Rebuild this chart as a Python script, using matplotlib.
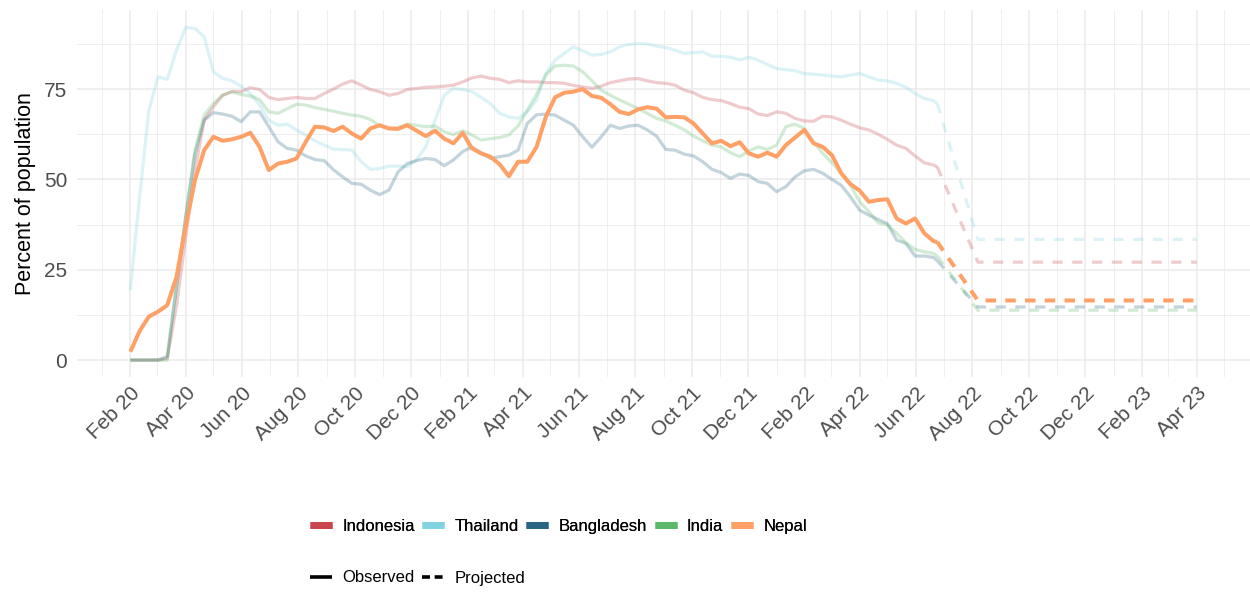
import numpy as np
import matplotlib
matplotlib.use("Agg")
import matplotlib.pyplot as plt
import matplotlib.dates as mdates
from matplotlib.lines import Line2D

plt.rcParams['font.family'] = ['Liberation Sans', 'DejaVu Sans']

# observed series, sampled every 10 days from 1 Feb 2020 (last point = 24 Jun 2022)
start = np.datetime64('2020-02-01')
obs_days = list(range(0, 871, 10)) + [874]

indonesia = [0, 0, 0, 0, 0.5, 15, 34, 52.6, 66.4, 70.1, 73.3, 74.3, 74.3, 75.4, 74.9,
             72.7, 72.1, 72.4, 72.7, 72.4, 72.4, 73.8, 75, 76.4, 77.3, 76.1, 74.9, 74.3,
             73.3, 73.8, 74.9, 75.2, 75.5, 75.6, 75.8, 76.1, 77, 78.1, 78.6, 78, 77.7,
             76.8, 77.3, 77, 77, 76.8, 76.8, 76.6, 76, 75.6, 75.2, 75.8, 76.8, 77.3, 77.8,
             77.9, 77.3, 76.8, 76.6, 76.1, 74.7, 74, 72.7, 72.1, 71.8, 71, 70, 69.6, 68.1,
             67.7, 68.7, 68.3, 66.9, 66.2, 66.1, 67.5, 67.3, 66.4, 65.3, 64.3, 63.7, 62.5,
             61.1, 59.5, 58.6, 56.5, 54.6, 54, 53.5]
thailand = [19.4, 45, 69, 78.4, 77.7, 85.8, 92.1, 91.8, 89.5, 79.8, 78, 77.3, 75.8, 73.8,
            70.6, 66.4, 65, 65.3, 63.7, 62.3, 60.7, 59.5, 58.4, 58.3, 58.1, 54.9, 52.8, 53,
            53.7, 53.7, 53.5, 55.5, 59, 66.4, 73.3, 75.2, 74.9, 74.3, 72.7, 71, 68.3, 67.3,
            66.9, 68.7, 72, 79.3, 83, 84.9, 86.7, 85.6, 84.4, 84.6, 85.3, 86.7, 87.4, 87.6,
            87.5, 86.9, 86.5, 85.8, 84.9, 85.1, 85.3, 84.1, 84.1, 83.8, 83.1, 83.8, 83,
            81.8, 80.7, 80.4, 80.1, 79.3, 79.1, 78.9, 78.6, 78.4, 78.9, 79.3, 78.4, 77.5,
            77.3, 76.6, 75.5, 73.8, 72.4, 71.8, 71]
bangladesh = [0, 0, 0, 0, 1, 20.3, 39.7, 57.2, 66.4, 68.5, 68.1, 67.5, 66, 68.7, 68.7,
              64.6, 60.4, 58.6, 58.1, 56.5, 55.5, 55.2, 52.7, 50.7, 48.9, 48.7, 47, 45.8,
              47, 52.1, 54.4, 55.2, 55.8, 55.5, 53.8, 55.4, 57.7, 59, 57.4, 55.8, 56.3,
              56.7, 58.1, 65.5, 67.9, 68.1, 67.8, 66.4, 65, 61.8, 58.9, 61.8, 65, 64.1,
              64.8, 65, 63.7, 62, 58.3, 58.1, 57, 56.5, 54.9, 52.8, 51.9, 50.3, 51.5, 51.1,
              49.4, 48.9, 46.6, 48, 50.7, 52.4, 52.8, 51.7, 50, 48.4, 45.2, 41.5, 40.1,
              38.9, 37.8, 33.2, 32.3, 28.8, 28.8, 28.4, 27.5]
india = [0, 0, 0, 0, 0, 21, 39.7, 58, 67.8, 71, 73.3, 74.3, 73.5, 73.1, 72.1, 68.7, 68.3,
         69.6, 70.8, 70.6, 69.9, 69.4, 68.9, 68.3, 67.8, 67.5, 66.6, 64.8, 64.1, 64.4,
         65.3, 65, 64.6, 64.8, 63.2, 62.4, 63.5, 62.3, 60.9, 61.3, 61.6, 62.3, 64.8, 69.2,
         73.5, 78.9, 81.4, 81.6, 81.4, 79.8, 77.3, 74.7, 73.3, 72, 70.8, 69.6, 68.3, 66.9,
         66.2, 65, 63.7, 62, 60.7, 59.5, 59, 57.4, 56.3, 57.9, 59, 58.3, 59.5, 64.6, 65.3,
         64.1, 60.4, 57.2, 54.6, 51.7, 48.4, 43.8, 41.1, 38, 37.4, 35.1, 32.5, 30.6, 30,
         29.5, 28.8]
nepal = [2.3, 8, 12, 13.4, 15.2, 23, 37, 49.8, 58.1, 61.8, 60.7, 61.1, 61.8, 62.9, 59,
         52.6, 54.4, 54.9, 55.8, 60.4, 64.6, 64.4, 63.4, 64.6, 62.7, 61.3, 64.1, 65, 64.1,
         64, 65, 63.5, 62, 63.5, 61.3, 60, 62.9, 58.6, 57.2, 56.3, 54.2, 50.9, 54.9, 54.9,
         59, 67.3, 72.7, 74, 74.3, 75, 73.1, 72.6, 70.8, 68.7, 68.1, 69.4, 70, 69.6, 67.2,
         67.3, 67.2, 65.5, 62.7, 60, 60.7, 59.2, 60.3, 57.2, 56.3, 57.4, 56.3, 59.5, 61.6,
         63.7, 60, 59, 56.7, 51.7, 48.7, 46.9, 43.8, 44.3, 44.5, 39.2, 37.8, 39.2, 35.1,
         32.9, 32.7]

# projected: last observed day, end of decline, 1 Apr 2023
proj_days = [874, 918, 1155]
proj = {
    'Indonesia': [53.5, 27.1, 27.1],
    'Thailand': [71, 33.4, 33.4],
    'Bangladesh': [27.5, 14.7, 14.7],
    'India': [28.8, 13.8, 13.8],
    'Nepal': [32.7, 16.5, 16.5],
}

countries = ['Indonesia', 'Thailand', 'Bangladesh', 'India', 'Nepal']
observed = {'Indonesia': indonesia, 'Thailand': thailand, 'Bangladesh': bangladesh,
            'India': india, 'Nepal': nepal}
colors = {'Indonesia': '#c8474f', 'Thailand': '#7fd4df', 'Bangladesh': '#276583',
          'India': '#5db96a', 'Nepal': '#ffa066'}
highlight = 'Nepal'

obs_dates = start + np.array(obs_days).astype('timedelta64[D]')
proj_dates = start + np.array(proj_days).astype('timedelta64[D]')

fig = plt.figure(figsize=(12.5, 5.95), dpi=100)
ax = fig.add_axes([77 / 1250, 1 - 376.7 / 595, 1 - 77 / 1250, (376.7 - 10) / 595])

for c in countries:
    if c == highlight:
        continue
    ax.plot(obs_dates, observed[c], color=colors[c], lw=2.3, alpha=0.28,
            solid_capstyle='butt', zorder=2)
    ax.plot(proj_dates, proj[c], color=colors[c], lw=2.3, alpha=0.28,
            dashes=(3.2, 3.0), zorder=2)

ax.plot(obs_dates, observed[highlight], color=colors[highlight], lw=2.9,
        solid_capstyle='butt', zorder=3)
ax.plot(proj_dates, proj[highlight], color=colors[highlight], lw=2.9,
        dashes=(2.6, 2.3), zorder=3)

# axes, ggplot minimal look
x0 = mdates.date2num(start)
x1 = mdates.date2num(np.datetime64('2023-04-01'))
pad = (x1 - x0) * 0.05
ax.set_xlim(x0 - pad, x1 + pad)
ax.set_ylim(-4.6, 96.9)

ax.xaxis.set_major_locator(mdates.MonthLocator(bymonth=[2, 4, 6, 8, 10, 12]))
ax.xaxis.set_minor_locator(mdates.MonthLocator(bymonth=[1, 3, 5, 7, 9, 11]))
ax.xaxis.set_major_formatter(mdates.DateFormatter('%b %y'))
ax.set_yticks([0, 25, 50, 75])
ax.set_yticks([12.5, 37.5, 62.5, 87.5], minor=True)

ax.grid(which='major', color='#ebebeb', lw=1.1)
ax.grid(which='minor', color='#ebebeb', lw=0.55)
ax.set_axisbelow(True)
for s in ax.spines.values():
    s.set_visible(False)
ax.tick_params(which='both', length=0)
ax.tick_params(axis='x', labelsize=15, labelcolor='#4d4d4d', pad=5)
ax.tick_params(axis='y', labelsize=15, labelcolor='#4d4d4d', pad=7)
for lab in ax.get_xticklabels():
    lab.set_rotation(45)
    lab.set_ha('right')
    lab.set_va('top')
    lab.set_rotation_mode('anchor')

ax.set_ylabel('Percent of population', fontsize=15.5, color='black')
ax.yaxis.set_label_coords(-0.035, 0.5)

# legends
country_handles = [Line2D([], [], color=colors[c], lw=5, solid_capstyle='butt')
                   for c in countries]
leg1 = fig.legend(country_handles, countries, loc='center left',
                  bbox_to_anchor=(310 / 1250, 1 - 526.7 / 595), ncol=5, frameon=False,
                  fontsize=12, handlelength=1.32, handletextpad=0.62,
                  columnspacing=0.45, borderpad=0, borderaxespad=0)
type_handles = [Line2D([], [], color='black', lw=2.6, solid_capstyle='butt'),
                Line2D([], [], color='black', lw=2.6, dashes=(2.2, 1.3))]
leg2 = fig.legend(type_handles, ['Observed', 'Projected'], loc='center left',
                  bbox_to_anchor=(310 / 1250, 1 - 578 / 595), ncol=2, frameon=False,
                  fontsize=12, handlelength=1.32, handletextpad=0.62,
                  columnspacing=0.45, borderpad=0, borderaxespad=0)
fig.add_artist(leg1)

fig.savefig('out.png', dpi=100)
